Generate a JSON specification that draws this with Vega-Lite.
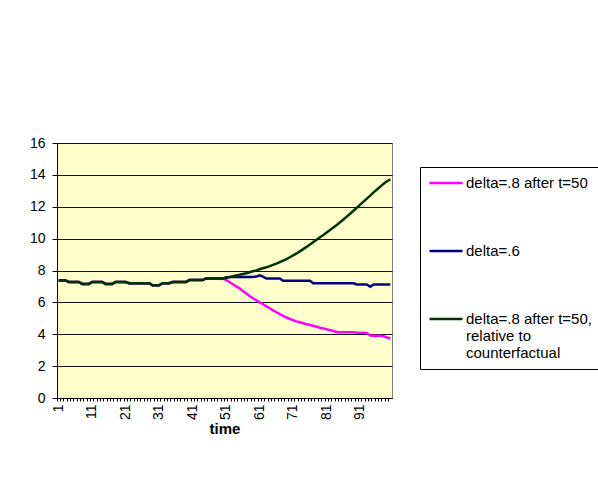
{
  "$schema": "https://vega.github.io/schema/vega-lite/v6.json",
  "width": 335,
  "height": 255,
  "autosize": {"type": "none"},
  "padding": {"left": 57, "top": 143, "right": 206, "bottom": 85},
  "background": "white",
  "config": {
    "view": {"fill": "#FFFFCC", "stroke": "#808080", "strokeWidth": 1},
    "font": "Liberation Sans",
    "axis": {
      "labelFont": "Liberation Sans",
      "labelFontSize": 14,
      "labelColor": "#000000",
      "domainColor": "#000000",
      "tickColor": "#000000",
      "titleFont": "Liberation Sans",
      "titleColor": "#000000"
    },
    "legend": {"labelFont": "Liberation Sans", "labelFontSize": 15}
  },
  "data": {
    "values": [
      {"t": 1, "m": 7.38, "b": 7.38, "g": 7.38},
      {"t": 2, "m": 7.38, "b": 7.38, "g": 7.38},
      {"t": 3, "m": 7.38, "b": 7.38, "g": 7.38},
      {"t": 4, "m": 7.28, "b": 7.28, "g": 7.28},
      {"t": 5, "m": 7.28, "b": 7.28, "g": 7.28},
      {"t": 6, "m": 7.28, "b": 7.28, "g": 7.28},
      {"t": 7, "m": 7.28, "b": 7.28, "g": 7.28},
      {"t": 8, "m": 7.16, "b": 7.16, "g": 7.16},
      {"t": 9, "m": 7.16, "b": 7.16, "g": 7.16},
      {"t": 10, "m": 7.16, "b": 7.16, "g": 7.16},
      {"t": 11, "m": 7.28, "b": 7.28, "g": 7.28},
      {"t": 12, "m": 7.28, "b": 7.28, "g": 7.28},
      {"t": 13, "m": 7.28, "b": 7.28, "g": 7.28},
      {"t": 14, "m": 7.28, "b": 7.28, "g": 7.28},
      {"t": 15, "m": 7.16, "b": 7.16, "g": 7.16},
      {"t": 16, "m": 7.16, "b": 7.16, "g": 7.16},
      {"t": 17, "m": 7.16, "b": 7.16, "g": 7.16},
      {"t": 18, "m": 7.28, "b": 7.28, "g": 7.28},
      {"t": 19, "m": 7.28, "b": 7.28, "g": 7.28},
      {"t": 20, "m": 7.28, "b": 7.28, "g": 7.28},
      {"t": 21, "m": 7.28, "b": 7.28, "g": 7.28},
      {"t": 22, "m": 7.2, "b": 7.2, "g": 7.2},
      {"t": 23, "m": 7.2, "b": 7.2, "g": 7.2},
      {"t": 24, "m": 7.2, "b": 7.2, "g": 7.2},
      {"t": 25, "m": 7.2, "b": 7.2, "g": 7.2},
      {"t": 26, "m": 7.2, "b": 7.2, "g": 7.2},
      {"t": 27, "m": 7.2, "b": 7.2, "g": 7.2},
      {"t": 28, "m": 7.2, "b": 7.2, "g": 7.2},
      {"t": 29, "m": 7.07, "b": 7.07, "g": 7.07},
      {"t": 30, "m": 7.07, "b": 7.07, "g": 7.07},
      {"t": 31, "m": 7.07, "b": 7.07, "g": 7.07},
      {"t": 32, "m": 7.2, "b": 7.2, "g": 7.2},
      {"t": 33, "m": 7.2, "b": 7.2, "g": 7.2},
      {"t": 34, "m": 7.2, "b": 7.2, "g": 7.2},
      {"t": 35, "m": 7.28, "b": 7.28, "g": 7.28},
      {"t": 36, "m": 7.28, "b": 7.28, "g": 7.28},
      {"t": 37, "m": 7.28, "b": 7.28, "g": 7.28},
      {"t": 38, "m": 7.28, "b": 7.28, "g": 7.28},
      {"t": 39, "m": 7.28, "b": 7.28, "g": 7.28},
      {"t": 40, "m": 7.4, "b": 7.4, "g": 7.4},
      {"t": 41, "m": 7.4, "b": 7.4, "g": 7.4},
      {"t": 42, "m": 7.4, "b": 7.4, "g": 7.4},
      {"t": 43, "m": 7.4, "b": 7.4, "g": 7.4},
      {"t": 44, "m": 7.4, "b": 7.4, "g": 7.4},
      {"t": 45, "m": 7.5, "b": 7.5, "g": 7.5},
      {"t": 46, "m": 7.5, "b": 7.5, "g": 7.5},
      {"t": 47, "m": 7.5, "b": 7.5, "g": 7.5},
      {"t": 48, "m": 7.5, "b": 7.5, "g": 7.5},
      {"t": 49, "m": 7.5, "b": 7.5, "g": 7.5},
      {"t": 50, "m": 7.5, "b": 7.5, "g": 7.5},
      {"t": 51, "m": 7.4, "b": 7.55, "g": 7.56},
      {"t": 52, "m": 7.28, "b": 7.58, "g": 7.6},
      {"t": 53, "m": 7.14, "b": 7.6, "g": 7.64},
      {"t": 54, "m": 7.0, "b": 7.6, "g": 7.69},
      {"t": 55, "m": 6.88, "b": 7.6, "g": 7.73},
      {"t": 56, "m": 6.72, "b": 7.6, "g": 7.78},
      {"t": 57, "m": 6.56, "b": 7.6, "g": 7.83},
      {"t": 58, "m": 6.4, "b": 7.6, "g": 7.89},
      {"t": 59, "m": 6.26, "b": 7.6, "g": 7.95},
      {"t": 60, "m": 6.13, "b": 7.62, "g": 8.01},
      {"t": 61, "m": 6.0, "b": 7.7, "g": 8.08},
      {"t": 62, "m": 5.88, "b": 7.62, "g": 8.14},
      {"t": 63, "m": 5.75, "b": 7.5, "g": 8.2},
      {"t": 64, "m": 5.63, "b": 7.5, "g": 8.27},
      {"t": 65, "m": 5.5, "b": 7.5, "g": 8.35},
      {"t": 66, "m": 5.38, "b": 7.5, "g": 8.43},
      {"t": 67, "m": 5.26, "b": 7.5, "g": 8.52},
      {"t": 68, "m": 5.15, "b": 7.36, "g": 8.62},
      {"t": 69, "m": 5.05, "b": 7.36, "g": 8.72},
      {"t": 70, "m": 4.96, "b": 7.36, "g": 8.83},
      {"t": 71, "m": 4.88, "b": 7.36, "g": 8.95},
      {"t": 72, "m": 4.81, "b": 7.36, "g": 9.07},
      {"t": 73, "m": 4.75, "b": 7.36, "g": 9.2},
      {"t": 74, "m": 4.69, "b": 7.36, "g": 9.34},
      {"t": 75, "m": 4.63, "b": 7.36, "g": 9.48},
      {"t": 76, "m": 4.58, "b": 7.36, "g": 9.63},
      {"t": 77, "m": 4.53, "b": 7.2, "g": 9.78},
      {"t": 78, "m": 4.47, "b": 7.2, "g": 9.93},
      {"t": 79, "m": 4.41, "b": 7.2, "g": 10.08},
      {"t": 80, "m": 4.36, "b": 7.2, "g": 10.23},
      {"t": 81, "m": 4.31, "b": 7.2, "g": 10.39},
      {"t": 82, "m": 4.26, "b": 7.2, "g": 10.54},
      {"t": 83, "m": 4.2, "b": 7.2, "g": 10.7},
      {"t": 84, "m": 4.14, "b": 7.2, "g": 10.86},
      {"t": 85, "m": 4.12, "b": 7.2, "g": 11.03},
      {"t": 86, "m": 4.12, "b": 7.2, "g": 11.2},
      {"t": 87, "m": 4.12, "b": 7.2, "g": 11.38},
      {"t": 88, "m": 4.12, "b": 7.2, "g": 11.56},
      {"t": 89, "m": 4.12, "b": 7.2, "g": 11.75},
      {"t": 90, "m": 4.1, "b": 7.12, "g": 11.94},
      {"t": 91, "m": 4.1, "b": 7.12, "g": 12.13},
      {"t": 92, "m": 4.1, "b": 7.12, "g": 12.32},
      {"t": 93, "m": 4.08, "b": 7.12, "g": 12.51},
      {"t": 94, "m": 3.92, "b": 6.98, "g": 12.7},
      {"t": 95, "m": 3.9, "b": 7.12, "g": 12.9},
      {"t": 96, "m": 3.9, "b": 7.12, "g": 13.08},
      {"t": 97, "m": 3.9, "b": 7.12, "g": 13.26},
      {"t": 98, "m": 3.88, "b": 7.12, "g": 13.44},
      {"t": 99, "m": 3.8, "b": 7.12, "g": 13.6},
      {"t": 100, "m": 3.74, "b": 7.12, "g": 13.72}
    ]
  },
  "transform": [{"fold": ["m", "b", "g"], "as": ["s", "v"]}],
  "encoding": {
    "x": {
      "field": "t",
      "type": "ordinal",
      "bandPosition": 0.5,
      "scale": {"type": "band", "paddingInner": 0, "paddingOuter": 0},
      "axis": {
        "title": "time",
        "titleFontWeight": "bold",
        "titleFontSize": 15,
        "titlePadding": 2,
        "labelFontSize": 14,
        "labelAngle": 270,
        "labelAlign": "right",
        "labelBaseline": "middle",
        "labelPadding": 3,
        "labelOverlap": false,
        "labelExpr": "(datum.value - 1) % 10 == 0 ? datum.label : ''",
        "bandPosition": 0,
        "tickSize": 3,
        "grid": false
      }
    },
    "y": {
      "field": "v",
      "type": "quantitative",
      "scale": {"domain": [0, 16], "nice": false},
      "axis": {
        "title": null,
        "values": [0, 2, 4, 6, 8, 10, 12, 14, 16],
        "labelFontSize": 14,
        "grid": true,
        "gridColor": "#111111",
        "gridOpacity": 1,
        "tickSize": 5,
        "labelPadding": 7
      }
    },
    "color": {
      "field": "s",
      "type": "nominal",
      "scale": {"domain": ["m", "b", "g"], "range": ["#FF00FF", "#000080", "#003300"]},
      "legend": {
        "title": null,
        "orient": "none",
        "legendX": 363,
        "legendY": 24,
        "symbolType": "stroke",
        "symbolSize": 1089,
        "symbolStrokeWidth": 2.5,
        "clipHeight": 16,
        "rowPadding": 52,
        "padding": 8,
        "labelOffset": 2,
        "labelFont": "Liberation Sans",
        "labelFontSize": 15,
        "labelColor": "#000000",
        "labelLimit": 300,
        "strokeColor": "#000000",
        "fillColor": "#FFFFFF",
        "labelExpr": "datum.value == 'm' ? 'delta=.8 after t=50' : datum.value == 'b' ? 'delta=.6' : ['delta=.8 after t=50,', 'relative to', 'counterfactual']"
      }
    }
  },
  "layer": [
    {"transform": [{"filter": "datum.s == 'm'"}], "mark": {"type": "line", "strokeWidth": 2.5}},
    {"transform": [{"filter": "datum.s == 'b'"}], "mark": {"type": "line", "strokeWidth": 2.5}},
    {"transform": [{"filter": "datum.s == 'g'"}], "mark": {"type": "line", "strokeWidth": 2.5}}
  ]
}
